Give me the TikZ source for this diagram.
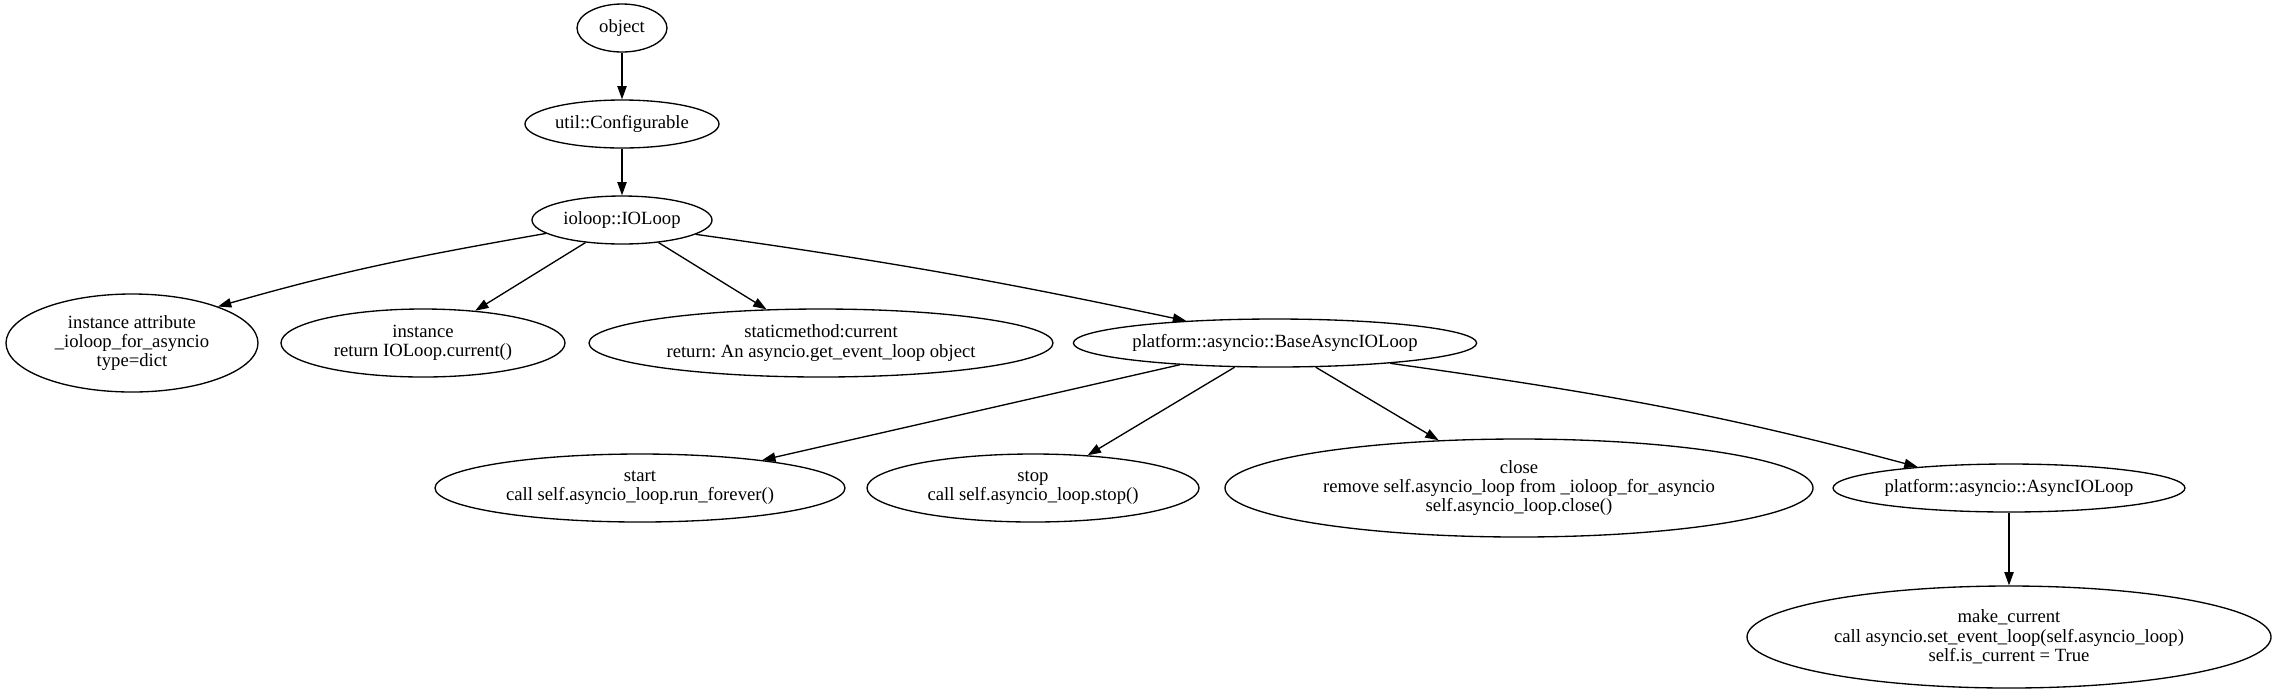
\documentclass[tikz,border=0pt]{standalone}
\usepackage{fontspec}
\setmainfont{Liberation Serif}
\usetikzlibrary{shapes.geometric,arrows.meta}
\frenchspacing
\begin{document}
\begin{tikzpicture}[x=0.75pt,y=-0.75pt,
  ell/.style 2 args={ellipse,draw,line width=1pt,inner sep=0pt,
    minimum width=#1*1.5pt,minimum height=#2*1.5pt,align=center,
    font=\fontsize{14}{14.5}\selectfont},
  edge/.style={-{Triangle[length=10pt,width=7pt]},line width=1pt}]
\useasboundingbox (0,0) rectangle (2279,694);
\node[ell={45}{24}] (object) at (622,28) {object};
\node[ell={97}{24}] (conf) at (622,124) {util::Configurable};
\node[ell={90}{24}] (ioloop) at (622,220) {ioloop::IOLoop};
\node[ell={126}{49}] (attr) at (132,343) {instance attribute\\\_ioloop\_for\_asyncio\\type=dict};
\node[ell={142}{34}] (inst) at (423,343) {instance\\return IOLoop.current()};
\node[ell={232}{34}] (cur) at (821,343) {staticmethod:current\\return: An asyncio.get\_event\_loop object};
\node[ell={198}{24}] (base) at (1275,343) {platform::asyncio::BaseAsyncIOLoop};
\node[ell={205}{34}] (start) at (640,488) {start\\call self.asyncio\_loop.run\_forever()};
\node[ell={166}{34}] (stop) at (1033,488) {stop\\call self.asyncio\_loop.stop()};
\node[ell={294}{49}] (close) at (1519,488) {close\\remove self.asyncio\_loop from \_ioloop\_for\_asyncio\\self.asyncio\_loop.close()};
\node[ell={172}{24}] (aio) at (2009,488) {platform::asyncio::AsyncIOLoop};
\node[ell={262}{51}] (make) at (2009,637) {make\_current\\call asyncio.set\_event\_loop(self.asyncio\_loop)\\self.is\_current = True};
\draw[edge] (object) -- (conf);
\draw[edge] (conf) -- (ioloop);
\draw[edge] (ioloop.190) to[out=190,in=16] (attr.23);
\draw[edge] (ioloop) -- (inst);
\draw[edge] (ioloop) -- (cur);
\draw[edge] (ioloop.-11) to[out=-8,in=168] (base.166);
\draw[edge] (base) -- (start);
\draw[edge] (base) -- (stop);
\draw[edge] (base) -- (close);
\draw[edge] (base.-10) to[out=-8,in=165] (aio.167);
\draw[edge] (aio) -- (make);
\end{tikzpicture}
\end{document}
